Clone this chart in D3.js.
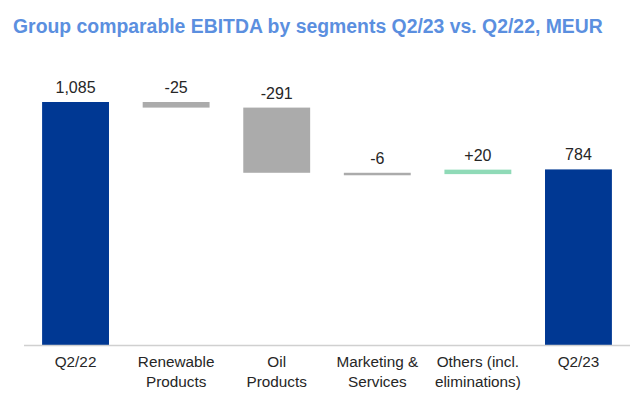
<!DOCTYPE html>
<html><head><meta charset="utf-8">
<script src="https://cdn.jsdelivr.net/npm/d3@7"></script>
<style>body{margin:0;background:#fff}svg{display:block}</style>
</head><body>
<script>
const categories = [["Q2/22"], ["Renewable","Products"], ["Oil","Products"], ["Marketing &","Services"], ["Others (incl.","eliminations)"], ["Q2/23"]];
const kinds = ["total","delta","delta","delta","delta","total"];
const values = [1085, -25, -291, -6, 20, 784];
const valueLabels = ["1,085", "-25", "-291", "-6", "+20", "784"];

const W = 640, H = 401;
const svg = d3.select("body").append("svg").attr("width", W).attr("height", H);

svg.append("text").attr("x", 13).attr("y", 33)
  .attr("font-family", "Liberation Sans, Arial, sans-serif")
  .attr("font-weight", "bold").attr("font-size", 19.4)
  .attr("fill", "#5b8fdf")
  .text("Group comparable EBITDA by segments Q2/23 vs. Q2/22, MEUR");

const x = d3.scaleBand().domain(d3.range(categories.length)).range([25, 629]).paddingInner(0.335).paddingOuter(0.17);
const y = d3.scaleLinear().domain([0, 1085]).range([345, 102]);

let run = 0;
const bars = values.map((v, i) => {
  let y0, y1;
  if (kinds[i] === "total") { y0 = 0; y1 = v; run = v; }
  else { y0 = run; y1 = run + v; run = y1; }
  let color = kinds[i] === "total" ? "#003893" : (v < 0 ? "#ababab" : "#8fdab7");
  return {i, lo: Math.min(y0, y1), hi: Math.max(y0, y1), color, label: valueLabels[i]};
});

svg.append("g").selectAll("rect").data(bars).join("rect")
  .attr("x", d => x(d.i)).attr("width", x.bandwidth())
  .attr("y", d => y(d.hi))
  .attr("height", d => Math.max(2.5, y(d.lo) - y(d.hi)))
  .attr("fill", d => d.color);

svg.append("g").selectAll("text").data(bars).join("text")
  .attr("x", d => x(d.i) + x.bandwidth()/2)
  .attr("y", d => y(d.hi) - 9)
  .attr("text-anchor", "middle")
  .attr("font-family", "Liberation Sans, Arial, sans-serif")
  .attr("font-size", 16).attr("fill", "#262626")
  .text(d => d.label);

svg.append("line").attr("x1", 24).attr("x2", 630).attr("y1", 345.5).attr("y2", 345.5)
  .attr("stroke", "#d0d0d0").attr("stroke-width", 1.5);

const lab = svg.append("g").selectAll("text").data(categories).join("text")
  .attr("text-anchor", "middle")
  .attr("font-family", "Liberation Sans, Arial, sans-serif")
  .attr("font-size", 15.3).attr("fill", "#262626")
  .attr("transform", (d, i) => `translate(${x(i) + x.bandwidth()/2},367)`);
lab.selectAll("tspan").data(d => d).join("tspan")
  .attr("x", 0).attr("dy", (d, j) => j === 0 ? 0 : 20).text(d => d);
</script>
</body></html>
